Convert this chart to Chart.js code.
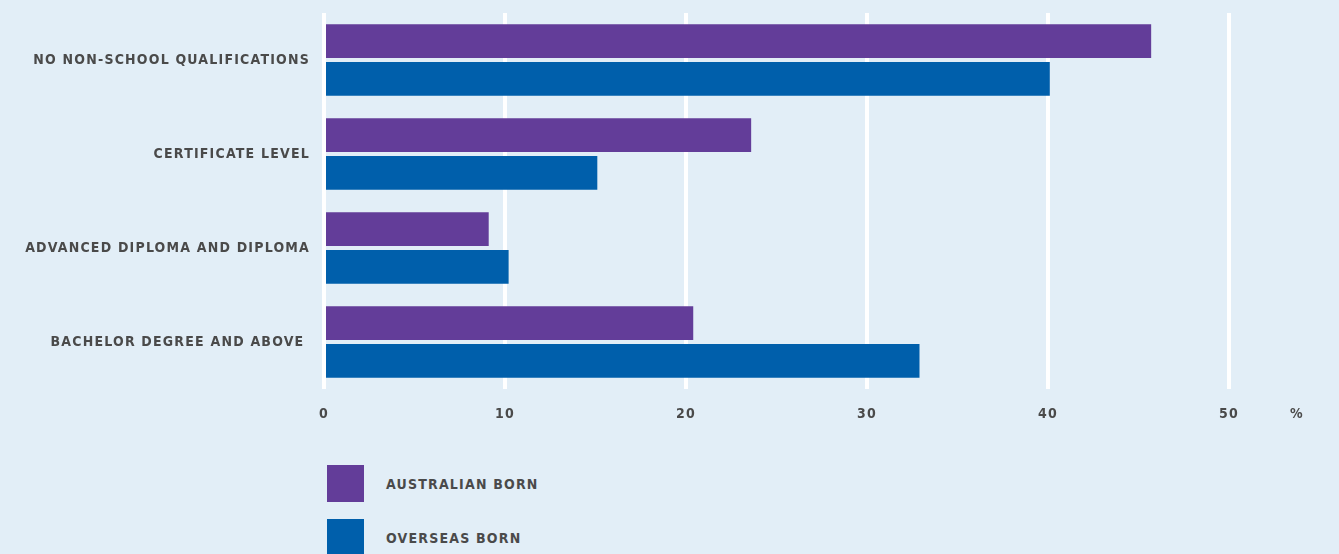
<!DOCTYPE html>
<html lang="en">
  <head>
    <meta charset="UTF-8" />
    <title>Qualifications by birthplace</title>
    <script src="https://cdn.jsdelivr.net/npm/chart.js"></script>
    <style>
      body {
        margin: 0;
        background: #e2eef7;
        font-family: "Liberation Sans Narrow", "DejaVu Sans Condensed", sans-serif;
        overflow: hidden;
      }
      .wrap {
        position: relative;
        width: 1339px;
        height: 440px;
      }
      .legend {
        position: absolute;
        left: 327px;
        top: 465px;
      }
      .legend-item {
        display: flex;
        align-items: center;
        height: 37px;
        margin-bottom: 17px;
        color: #4a4a4a;
        font-weight: bold;
        font-size: 14px;
        letter-spacing: 1.2px;
      }
      .legend-item .box {
        width: 37px;
        height: 37px;
        margin-right: 22px;
      }
    </style>
  </head>
  <body>
    <div class="wrap"><canvas id="barChart"></canvas></div>
    <div class="legend" id="legend"></div>

    <script>
      const categories = [
        "NO NON-SCHOOL QUALIFICATIONS",
        "CERTIFICATE LEVEL",
        "ADVANCED DIPLOMA AND DIPLOMA",
        "BACHELOR DEGREE AND ABOVE "
      ];
      const australianBorn = [45.7, 23.6, 9.1, 20.4];
      const overseasBorn = [40.1, 15.1, 10.2, 32.9];
      const seriesNames = ["AUSTRALIAN BORN", "OVERSEAS BORN"];
      const seriesColors = ["#633d99", "#005fab"];

      const textColor = "#4a4a4a";
      const labelFont = { family: "'Liberation Sans Narrow', 'DejaVu Sans Condensed', sans-serif", size: 14, weight: "bold" };

      // canvas text gets a little tracking, like the printed labels
      const spacing = {
        id: "spacing",
        beforeInit(chart) { chart.ctx.letterSpacing = "1.2px"; },
        beforeDraw(chart) { chart.ctx.letterSpacing = "1.2px"; }
      };

      // unit marker to the right of the last tick
      const unitLabel = {
        id: "unitLabel",
        afterDraw(chart) {
          const x = chart.scales.x;
          const ctx = chart.ctx;
          ctx.save();
          ctx.font = "bold 14px " + labelFont.family;
          ctx.fillStyle = textColor;
          ctx.textAlign = "center";
          ctx.textBaseline = "middle";
          ctx.fillText("%", x.getPixelForValue(50) + 68, x.bottom - 26);
          ctx.restore();
        }
      };

      new Chart(document.getElementById("barChart"), {
        type: "bar",
        data: {
          labels: categories,
          datasets: [
            { label: seriesNames[0], data: australianBorn, backgroundColor: seriesColors[0] },
            { label: seriesNames[1], data: overseasBorn, backgroundColor: seriesColors[1] }
          ]
        },
        options: {
          indexAxis: "y",
          responsive: true,
          maintainAspectRatio: false,
          animation: false,
          categoryPercentage: 0.8,
          barPercentage: 0.9,
          layout: { padding: { top: 13, right: 110, left: 0, bottom: 0 } },
          plugins: {
            legend: { display: false },
            tooltip: { enabled: false }
          },
          scales: {
            x: {
              min: 0,
              max: 50,
              border: { display: false },
              grid: { color: "#ffffff", lineWidth: 4, drawTicks: false },
              ticks: { stepSize: 10, color: textColor, font: labelFont, padding: 17 },
              afterFit(scale) { scale.height = 51; }
            },
            y: {
              border: { display: false },
              grid: { display: false, drawTicks: false },
              ticks: { color: textColor, font: labelFont, padding: 14 },
              afterFit(scale) {
                scale.width = 324;
                scale.paddingTop = 0;
                scale.paddingBottom = 0;
              }
            }
          }
        },
        plugins: [spacing, unitLabel]
      });

      const legend = document.getElementById("legend");
      seriesNames.forEach((name, i) => {
        const item = document.createElement("div");
        item.className = "legend-item";
        item.innerHTML = '<span class="box" style="background:' + seriesColors[i] + '"></span>' + name;
        legend.appendChild(item);
      });
    </script>
  </body>
</html>
